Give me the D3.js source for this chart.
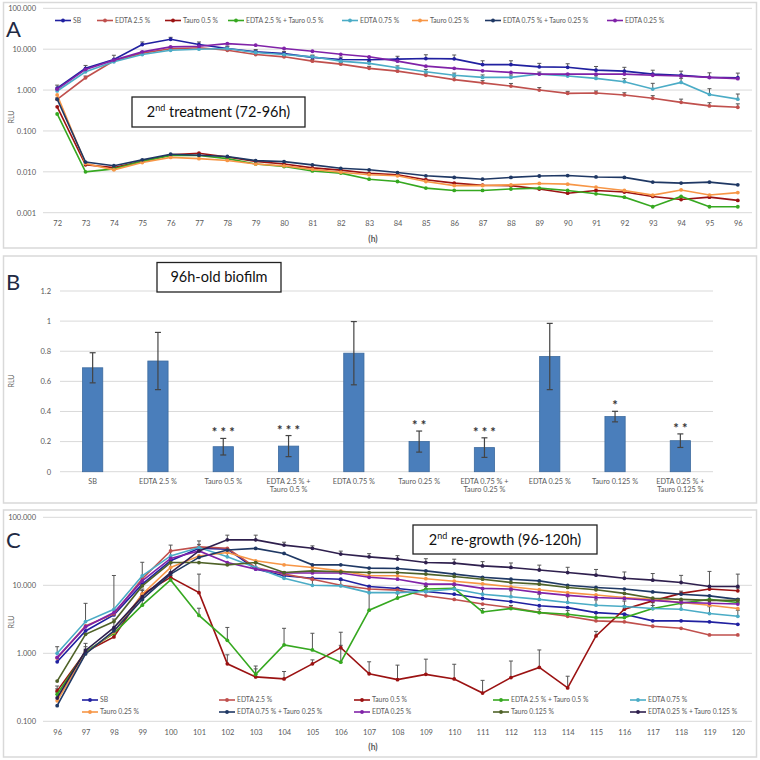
<!DOCTYPE html>
<html>
<head>
<meta charset="utf-8">
<script src="https://cdn.jsdelivr.net/npm/d3@7"></script>
<style>
  body { margin: 0; background: #fff; }
  svg { font-family: Lato, "Open Sans", sans-serif; }
</style>
</head>
<body>
<svg id="chart" width="760" height="760"></svg>
<script>
"use strict";

/* ---- data ---- */

const hoursA = [72, 73, 74, 75, 76, 77, 78, 79, 80, 81, 82, 83, 84, 85, 86, 87, 88, 89, 90, 91, 92, 93, 94, 95, 96];
const hoursC = [96, 97, 98, 99, 100, 101, 102, 103, 104, 105, 106, 107, 108, 109, 110, 111, 112, 113, 114, 115, 116, 117, 118, 119, 120];

const seriesNames = ["SB", "EDTA 2.5 %", "Tauro 0.5 %", "EDTA 2.5 % + Tauro 0.5 %", "EDTA 0.75 %",
  "Tauro 0.25 %", "EDTA 0.75 % + Tauro 0.25 %", "EDTA 0.25 %", "Tauro 0.125 %", "EDTA 0.25 % + Tauro 0.125 %"];
const seriesColors = ["#2020a0", "#c0504d", "#9b1212", "#36a820", "#4bacc6",
  "#f79646", "#1f3864", "#8022a8", "#4f6228", "#2e1f4d"];

// panel A (2nd treatment)
const sbA = [1.12, 3.4, 5.6, 13, 17.5, 13, 10.4, 8.6, 7.8, 6.3, 5.6, 5.5, 5.7, 5.9, 5.8, 4.2, 4.2, 3.7, 3.6, 3.07, 2.9, 2.46, 2.3, 2.04, 2.0];
const edta25A = [0.59, 2.0, 5.2, 8.0, 10.2, 10.8, 9.4, 7.4, 6.5, 5.1, 4.3, 3.4, 2.9, 2.3, 1.8, 1.5, 1.25, 1.0, 0.83, 0.85, 0.76, 0.63, 0.5, 0.41, 0.38];
const tauro05A = [0.39, 0.0148, 0.0127, 0.018, 0.026, 0.0285, 0.023, 0.018, 0.0155, 0.0125, 0.011, 0.0092, 0.0085, 0.0064, 0.0053, 0.0047, 0.0046, 0.0038, 0.0030, 0.0035, 0.0032, 0.0025, 0.0021, 0.0024, 0.0020];
const edta25Tauro05A = [0.26, 0.010, 0.0118, 0.018, 0.025, 0.025, 0.021, 0.0155, 0.0135, 0.0105, 0.0093, 0.0066, 0.0058, 0.0040, 0.0035, 0.0035, 0.0038, 0.0040, 0.0035, 0.0029, 0.0024, 0.0014, 0.0025, 0.0014, 0.0014];
const edta075A = [0.95, 2.8, 4.9, 7.4, 9.4, 10, 10.4, 8.3, 7.4, 6.5, 5.1, 4.5, 3.5, 2.8, 2.3, 2.04, 2.04, 2.46, 2.2, 1.93, 1.6, 1.06, 1.54, 0.78, 0.6];
const tauro025A = [0.76, 0.016, 0.0112, 0.0169, 0.0225, 0.021, 0.019, 0.0155, 0.014, 0.0115, 0.0098, 0.0085, 0.008, 0.0058, 0.0046, 0.0046, 0.0048, 0.0052, 0.005, 0.0042, 0.0035, 0.0027, 0.0036, 0.0027, 0.0031];
const edta075Tauro025A = [0.6, 0.0173, 0.0141, 0.0196, 0.027, 0.0255, 0.0237, 0.0188, 0.0178, 0.0148, 0.0122, 0.0112, 0.0096, 0.0080, 0.0073, 0.0066, 0.0073, 0.0079, 0.0081, 0.0075, 0.0073, 0.0056, 0.0053, 0.0056, 0.0048];
const edta025A = [1.05, 3.2, 5.4, 8.6, 11.4, 11.8, 13.7, 12.5, 10.4, 8.9, 7.5, 6.5, 5.1, 3.85, 3.4, 2.96, 2.7, 2.46, 2.46, 2.46, 2.46, 2.3, 2.2, 2.04, 1.9];

// upper error (SD) in panel A
const sbErrA = [0.2, 0.6, 1.5, 2, 2, 2, 1.5, 1.2, 1, 0.8, 0.8, 0.8, 1, 1.4, 1.4, 1, 1, 0.8, 0.8, 0.7, 0.7, 0.6, 0.6, 0.6, 0.6];
const edta25ErrA = [0.05, 0.2, 0.5, 0.8, 1, 1, 0.9, 0.7, 0.6, 0.5, 0.4, 0.4, 0.4, 0.3, 0.3, 0.2, 0.2, 0.15, 0.1, 0.1, 0.1, 0.1, 0.1, 0.08, 0.08];
const edta075ErrA = [0.1, 0.3, 0.5, 0.7, 0.9, 1, 1, 0.8, 0.7, 0.6, 0.5, 0.5, 0.4, 0.4, 0.3, 0.3, 0.3, 0.3, 0.3, 0.3, 0.3, 0.4, 0.4, 0.3, 0.2];

// panel B (96h-old biofilm)
const bCategories = ["SB", "EDTA 2.5 %", "Tauro 0.5 %", "EDTA 2.5 % + Tauro 0.5 %", "EDTA 0.75 %",
  "Tauro 0.25 %", "EDTA 0.75 % + Tauro 0.25 %", "EDTA 0.25 %", "Tauro 0.125 %", "EDTA 0.25 % + Tauro 0.125 %"];
const bValues = [0.69, 0.735, 0.166, 0.17, 0.787, 0.2, 0.16, 0.765, 0.366, 0.206];
const bErrors = [0.1, 0.19, 0.055, 0.07, 0.21, 0.07, 0.065, 0.22, 0.035, 0.045];
const bStars = ["", "", "***", "***", "", "**", "***", "", "*", "**"];

// panel C (2nd re-growth)
const sbC = [0.75, 2.13, 3.67, 10.4, 23, 35, 34, 17.3, 13.8, 12.7, 12.3, 9.6, 8.97, 8.1, 7.4, 6.4, 5.77, 5.0, 4.7, 3.97, 3.75, 3.0, 3.0, 2.9, 2.67];
const edta25C = [0.85, 2.52, 3.8, 12.5, 32, 36.7, 35, 18.3, 14.6, 12.3, 10, 8.8, 8.5, 7.0, 6.2, 5.3, 4.7, 4.0, 3.5, 3.0, 2.9, 2.5, 2.33, 1.86, 1.86];
const tauro05C = [0.28, 1.05, 1.74, 7.4, 13.1, 7.8, 0.7, 0.45, 0.42, 0.7, 1.21, 0.5, 0.41, 0.49, 0.42, 0.26, 0.44, 0.62, 0.31, 1.8, 4.45, 5.9, 7.6, 8.8, 8.3];
const edta25Tauro05C = [0.25, 1.05, 1.97, 5.1, 12, 3.6, 1.55, 0.49, 1.33, 1.12, 0.74, 4.3, 6.5, 8.8, 9.0, 4.06, 4.55, 3.97, 3.75, 3.35, 3.35, 4.55, 5.45, 6.2, 5.6];
const edta075C = [1.0, 2.93, 4.44, 13.8, 27, 35.9, 26.2, 18.3, 12.7, 10, 9.8, 7.8, 7.8, 8.1, 8.8, 7.4, 6.8, 6.2, 5.6, 5.1, 4.87, 4.55, 4.45, 3.84, 3.5];
const tauro025C = [0.2, 1.0, 2.06, 7.4, 18.3, 27, 30.4, 22.9, 20, 18.3, 16.3, 13.8, 13.8, 12.5, 11.5, 10.5, 9.5, 8.6, 7.8, 7.2, 6.6, 6.2, 5.6, 5.1, 4.55];
const edta075Tauro025C = [0.17, 0.98, 2.13, 6.2, 14.6, 25.7, 33, 34.9, 29.4, 20, 20, 17.9, 17.7, 16.3, 14.6, 13.1, 12.3, 11.6, 10, 9.3, 8.8, 8.0, 7.4, 7.0, 6.2];
const edta025C = [0.87, 2.44, 3.97, 11.6, 24.8, 32, 21.6, 17.3, 15.2, 15.2, 15.2, 13.1, 12.3, 10.4, 10.4, 9.0, 8.8, 7.8, 7.1, 6.6, 6.4, 6.0, 5.6, 5.45, 5.3];
const tauro0125C = [0.39, 1.9, 2.93, 9.8, 21.6, 21.6, 20, 21.6, 15.4, 16.3, 15.8, 15.4, 15.4, 14.6, 13.5, 12.3, 11, 10.4, 9.3, 8.6, 7.6, 6.45, 6.2, 6.0, 6.0];
const edta025Tauro0125C = [0.22, 1.1, 2.39, 6.8, 15.4, 32, 46.6, 46.6, 39, 35, 28.8, 26.2, 24.3, 21.6, 21.2, 19.3, 18.3, 16.8, 15.4, 14.1, 12.7, 11.9, 11.0, 9.6, 9.6];

// upper error (SD) in panel C
const tauro05ErrC = [0.05, 0.1, 0.3, 1, 2, 6.8, 0.25, 0.2, 0.12, 0.1, 0.1, 0.25, 0.26, 0.33, 0.27, 0.14, 0.33, 0.5, 0.15, 0.3, 0.5, 0.5, 0.6, 0.8, 0.8];
const edta25Tauro05ErrC = [0.05, 0.2, 0.3, 1, 2, 1, 0.85, 0.1, 1.0, 0.85, 1.3, 3.5, 1, 1, 1, 0.5, 0.5, 0.5, 0.5, 0.5, 0.5, 0.5, 0.6, 0.8, 0.8];
const edta075ErrC = [0.25, 2.5, 9.5, 8, 12, 9, 4, 3, 3, 2, 2, 2, 1.5, 1.5, 1.5, 1.5, 1.5, 1.2, 1.2, 1, 1, 1, 1, 1, 0.8];
const edta025Tauro0125ErrC = [0.05, 0.3, 0.8, 2, 6, 8, 8, 8, 4, 3, 3, 3, 3, 3, 3, 3, 3, 3, 3, 3, 3, 3, 3, 6.4, 5];

const valuesA = [sbA, edta25A, tauro05A, edta25Tauro05A, edta075A, tauro025A, edta075Tauro025A, edta025A];
const errorsA = [sbErrA, edta25ErrA, null, null, edta075ErrA, null, null, null];
const valuesC = [sbC, edta25C, tauro05C, edta25Tauro05C, edta075C, tauro025C, edta075Tauro025C, edta025C, tauro0125C, edta025Tauro0125C];
const errorsC = [null, null, tauro05ErrC, edta25Tauro05ErrC, edta075ErrC, null, null, null, null, edta025Tauro0125ErrC];

/* ---- drawing ---- */

const svg = d3.select('#chart');
const TEXT = '#595959';
const GRID = '#d9d9d9';

function frame(y, h) {
  svg.append('rect')
    .attr('x', 3.5).attr('y', y)
    .attr('width', 753).attr('height', h)
    .attr('fill', 'none')
    .attr('stroke', '#d9d9d9')
    .attr('stroke-width', 1.5);
}

function panelLetter(letter, y) {
  svg.append('text')
    .attr('x', 6).attr('y', y)
    .attr('font-size', 22)
    .attr('fill', '#1f2a44')
    .text(letter);
}

function noteBox(x, y, w, h, main, sup, rest) {
  const g = svg.append('g');
  g.append('rect')
    .attr('x', x).attr('y', y).attr('width', w).attr('height', h)
    .attr('fill', '#fff').attr('stroke', '#222').attr('stroke-width', 1.3);
  const t = g.append('text')
    .attr('x', x + w / 2).attr('y', y + h / 2 + 5)
    .attr('text-anchor', 'middle')
    .attr('font-size', 14.5)
    .attr('fill', '#111');
  t.append('tspan').text(main);
  if (sup) {
    t.append('tspan').attr('font-size', 9).attr('dy', -6).text(sup);
    t.append('tspan').attr('dy', 6).text(rest);
  }
}

function createLinePanel(opts) {
  const x = d3.scalePoint().domain(opts.hours).range([43, 752]).padding(0.5);
  const y = d3.scaleLog().domain(opts.domain).range(opts.yRange);
  const g = svg.append('g');

  g.append('g').selectAll('line')
    .data(opts.ticks)
    .enter().append('line')
    .attr('x1', 43).attr('x2', 752)
    .attr('y1', d => y(d)).attr('y2', d => y(d))
    .attr('stroke', GRID);

  const yAxis = g.append('g')
    .attr('transform', 'translate(43,0)')
    .call(d3.axisLeft(y).tickValues(opts.ticks).tickFormat(d3.format('.3f')).tickSize(0).tickPadding(7));
  yAxis.select('.domain').remove();
  yAxis.selectAll('text').attr('font-size', 7.5).attr('fill', TEXT).attr('font-family', 'Lato, sans-serif');

  const xAxis = g.append('g')
    .attr('transform', `translate(0,${opts.yRange[0]})`)
    .call(d3.axisBottom(x).tickSize(0).tickPadding(8));
  xAxis.select('.domain').remove();
  xAxis.selectAll('text').attr('font-size', 7.5).attr('fill', TEXT).attr('font-family', 'Lato, sans-serif');

  g.append('text')
    .attr('x', 373).attr('y', opts.yRange[0] + 29)
    .attr('text-anchor', 'middle')
    .attr('font-size', 8.5).attr('font-weight', 'bold').attr('fill', TEXT)
    .text('(h)');

  g.append('text')
    .attr('transform', `translate(14,${opts.rluY}) rotate(-90)`)
    .attr('text-anchor', 'middle')
    .attr('font-size', 7).attr('fill', TEXT)
    .text('RLU');

  const line = d3.line()
    .x((d, i) => x(opts.hours[i]))
    .y(d => y(d));

  // error bars under the lines
  opts.values.forEach((vals, s) => {
    const errs = opts.errors[s];
    if (errs) {
      const eg = g.append('g').attr('stroke', '#555').attr('stroke-width', 1);
      vals.forEach((v, i) => {
        const cx = x(opts.hours[i]);
        const top = y(v + errs[i]);
        eg.append('line').attr('x1', cx).attr('x2', cx).attr('y1', y(v)).attr('y2', top);
        eg.append('line').attr('x1', cx - 2).attr('x2', cx + 2).attr('y1', top).attr('y2', top);
      });
    }
  });

  opts.values.forEach((vals, s) => {
    const color = seriesColors[s];
    g.append('path')
      .datum(vals)
      .attr('d', line)
      .attr('fill', 'none')
      .attr('stroke', color)
      .attr('stroke-width', 1.6);
    g.append('g').selectAll('circle')
      .data(vals)
      .enter().append('circle')
      .attr('cx', (d, i) => x(opts.hours[i]))
      .attr('cy', d => y(d))
      .attr('r', 1.9)
      .attr('fill', color);
  });
}

function legendItem(x, y, s) {
  const color = seriesColors[s];
  svg.append('line')
    .attr('x1', x).attr('x2', x + 16).attr('y1', y).attr('y2', y)
    .attr('stroke', color).attr('stroke-width', 1.6);
  svg.append('circle').attr('cx', x + 8).attr('cy', y).attr('r', 1.9).attr('fill', color);
  svg.append('text')
    .attr('x', x + 18).attr('y', y + 2.3)
    .attr('font-size', 6.8).attr('fill', TEXT)
    .text(seriesNames[s]);
}

function createBarPanel() {
  const x = d3.scaleBand().domain(bCategories).range([60, 713]).paddingInner(0.69).paddingOuter(0.345);
  const y = d3.scaleLinear().domain([0, 1.2]).range([471.7, 291]);
  const ticks = [0, 0.2, 0.4, 0.6, 0.8, 1, 1.2];
  const g = svg.append('g');

  g.append('g').selectAll('line')
    .data(ticks)
    .enter().append('line')
    .attr('x1', 60).attr('x2', 713)
    .attr('y1', d => y(d)).attr('y2', d => y(d))
    .attr('stroke', GRID);

  const yAxis = g.append('g')
    .attr('transform', 'translate(60,0)')
    .call(d3.axisLeft(y).tickValues(ticks).tickFormat(d3.format('~g')).tickSize(0).tickPadding(9));
  yAxis.select('.domain').remove();
  yAxis.selectAll('text').attr('font-size', 7.5).attr('fill', TEXT).attr('font-family', 'Lato, sans-serif');

  g.append('text')
    .attr('transform', 'translate(14,381) rotate(-90)')
    .attr('text-anchor', 'middle')
    .attr('font-size', 7).attr('fill', TEXT)
    .text('RLU');

  g.selectAll('rect.bar')
    .data(bValues)
    .enter().append('rect')
    .attr('class', 'bar')
    .attr('x', (d, i) => x(bCategories[i]))
    .attr('y', d => y(d))
    .attr('width', x.bandwidth())
    .attr('height', d => y(0) - y(d))
    .attr('fill', '#4a7ebb')
    .attr('stroke', '#3c6a9e')
    .attr('stroke-width', 0.8);

  bValues.forEach((v, i) => {
    const cx = x(bCategories[i]) + x.bandwidth() / 2;
    const lo = y(v - bErrors[i]);
    const hi = y(v + bErrors[i]);
    g.append('line').attr('x1', cx).attr('x2', cx).attr('y1', lo).attr('y2', hi)
      .attr('stroke', '#444').attr('stroke-width', 1.2);
    [lo, hi].forEach(yy => {
      g.append('line').attr('x1', cx - 3).attr('x2', cx + 3).attr('y1', yy).attr('y2', yy)
        .attr('stroke', '#444').attr('stroke-width', 1.2);
    });
    if (bStars[i]) {
      g.append('text')
        .attr('x', cx).attr('y', hi - 1)
        .attr('text-anchor', 'middle')
        .attr('font-size', 13).attr('font-weight', 'bold').attr('fill', '#333')
        .text(bStars[i].split('').join(' '));
    }
    const parts = bCategories[i].split(' + ');
    const lab = g.append('text')
      .attr('x', cx).attr('y', 484)
      .attr('text-anchor', 'middle')
      .attr('font-size', 7.3).attr('fill', TEXT);
    if (parts.length > 1) {
      lab.append('tspan').attr('x', cx).text(parts[0] + ' +');
      lab.append('tspan').attr('x', cx).attr('dy', 8).text(parts[1]);
    } else {
      lab.text(parts[0]);
    }
  });
}

/* ---- panel A ---- */
frame(2.5, 245.5);
createLinePanel({
  hours: hoursA, values: valuesA, errors: errorsA,
  domain: [0.001, 100], yRange: [212.7, 8.3],
  ticks: [0.001, 0.01, 0.1, 1, 10, 100], rluY: 117
});
const legendAX = [55, 97, 165, 228, 342, 412, 485, 607];
legendAX.forEach((lx, s) => legendItem(lx, 20.5, s));
panelLetter('A', 37);
noteBox(132, 97, 173, 30, '2', 'nd', ' treatment (72-96h)');

/* ---- panel B ---- */
frame(256, 247);
createBarPanel();
panelLetter('B', 290);
noteBox(157, 262.5, 124, 29.5, '96h-old biofilm');

/* ---- panel C ---- */
frame(510, 247);
createLinePanel({
  hours: hoursC, values: valuesC, errors: errorsC,
  domain: [0.1, 100], yRange: [721.3, 517.3],
  ticks: [0.1, 1, 10, 100], rluY: 622
});
const legendCX = [82, 219, 354, 493, 630];
seriesNames.forEach((n, s) => legendItem(legendCX[s % 5], s < 5 ? 700 : 712, s));
panelLetter('C', 548);
noteBox(413, 525, 184, 29, '2', 'nd', ' re-growth (96-120h)');
</script>
</body>
</html>
